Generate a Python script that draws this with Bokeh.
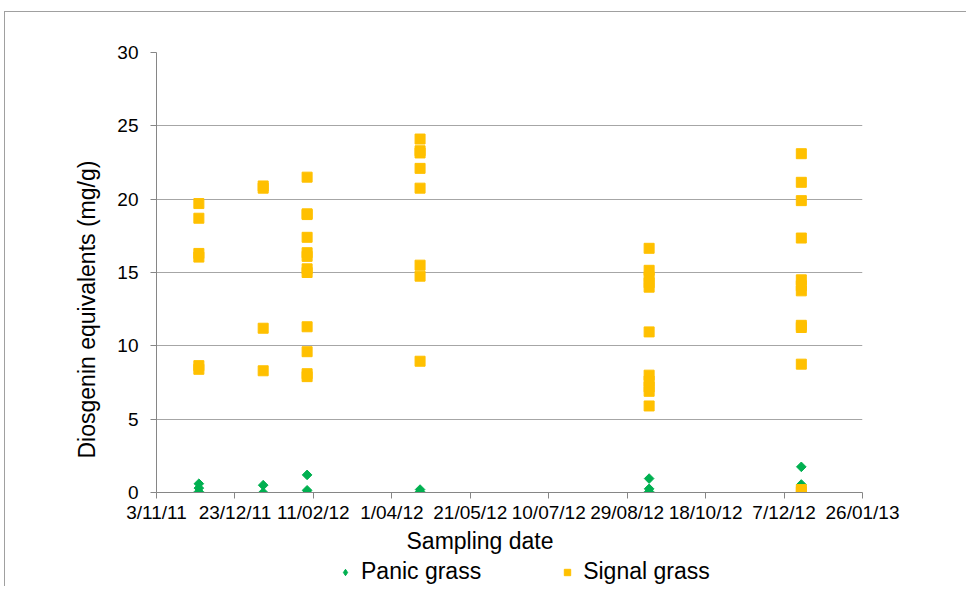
import math
import pandas as pd
from bokeh.plotting import figure
from bokeh.layouts import column
from bokeh.models import (ColumnDataSource, FixedTicker, CustomJSTickFormatter,
                          Legend, LegendItem, Range1d, Title)
from bokeh.embed import file_html
from bokeh.resources import INLINE

# ---- data ----
sampling_dates = ["2011-11-30", "2012-01-10", "2012-02-07",
                  "2012-04-19", "2012-09-12", "2012-12-18"]

panic_values = [
    [0.6, 0.3, 0.05],
    [0.5, 0.0],
    [1.2, 0.15, 0.0],
    [0.2, 0.05],
    [0.95, 0.25, 0.05],
    [1.75, 0.55, 0.1],
]

signal_values = [
    [19.7, 18.7, 16.3, 16.05, 8.65, 8.4],
    [20.9, 20.75, 11.2, 8.3],
    [21.5, 19.0, 18.95, 17.4, 16.35, 16.1, 15.25, 15.0, 11.3, 9.6, 8.1, 7.9],
    [24.1, 23.3, 23.15, 22.1, 20.75, 15.5, 14.75, 8.95],
    [16.65, 15.15, 14.7, 14.3, 14.0, 10.95, 8.0, 7.6, 7.2, 6.9, 5.9],
    [23.1, 21.15, 19.9, 17.35, 14.5, 14.1, 13.75, 11.4, 11.25, 8.75, 0.2, 0.05],
]

x_tick_dates = ["2011-11-03", "2011-12-23", "2012-02-11", "2012-04-01",
                "2012-05-21", "2012-07-10", "2012-08-29", "2012-10-18",
                "2012-12-07", "2013-01-26"]
y_ticks = [0, 5, 10, 15, 20, 25, 30]

series_names = ["Panic grass", "Signal grass"]
series_colors = ["#00B050", "#FFC000"]
x_title = "Sampling date"
y_title = "Diosgenin equivalents (mg/g)"


def flatten(values):
    xs, ys = [], []
    for d, vs in zip(sampling_dates, values):
        for v in vs:
            xs.append(pd.Timestamp(d))
            ys.append(v)
    return ColumnDataSource(data=dict(x=xs, y=ys))


def ms(d):
    return pd.Timestamp(d).value // 10**6


FONT = "Liberation Sans"
panic_src = flatten(panic_values)
signal_src = flatten(signal_values)

p = figure(width=961, height=546, x_axis_type="datetime",
           x_range=Range1d(pd.Timestamp(x_tick_dates[0]), pd.Timestamp(x_tick_dates[-1])),
           y_range=Range1d(y_ticks[0], y_ticks[-1]),
           output_backend="svg", toolbar_location=None,
           min_border_left=151, min_border_right=104,
           min_border_top=40, min_border_bottom=66)

p.outline_line_color = None
p.background_fill_color = "white"
p.border_fill_color = "white"

# grid
p.xgrid.grid_line_color = None
p.ygrid.grid_line_color = "#a6a6a6"
p.ygrid.grid_line_width = 1
p.ygrid.ticker = FixedTicker(ticks=y_ticks)

# axes
xa = p.xaxis[0]
xa.ticker = FixedTicker(ticks=[ms(d) for d in x_tick_dates])
xa.formatter = CustomJSTickFormatter(code="""
const d = new Date(tick);
const dd = d.getUTCDate();
const mm = String(d.getUTCMonth() + 1).padStart(2, '0');
const yy = String(d.getUTCFullYear() % 100).padStart(2, '0');
return dd + '/' + mm + '/' + yy;
""")

ya = p.yaxis[0]
ya.ticker = FixedTicker(ticks=y_ticks)

for ax in (xa, ya):
    ax.axis_line_color = "#868686"
    ax.major_tick_line_color = "#868686"
    ax.minor_tick_line_color = None
    ax.major_tick_in = 0
    ax.major_tick_out = 6
    ax.major_label_text_font = FONT
    ax.major_label_text_font_size = "19px"
    ax.major_label_text_color = "black"

xa.major_label_standoff = 3
ya.major_label_standoff = 12

# axis titles as side-panel titles (Excel places them off-centre)
t_x = Title(text=x_title, align="left", offset=250, standoff=0,
            text_font=FONT, text_font_size="23px", text_font_style="normal",
            text_color="black")
p.add_layout(t_x, "below")
t_y = Title(text=y_title, align="left", offset=34, standoff=29,
            text_font=FONT, text_font_size="23px", text_font_style="normal",
            text_color="black")
p.add_layout(t_y, "left")

p.scatter("x", "y", source=panic_src, marker="square", angle=math.pi / 4, size=6.8,
          fill_color=series_colors[0], line_color=series_colors[0])
p.scatter("x", "y", source=signal_src, marker="square", size=10,
          fill_color=series_colors[1], line_color=series_colors[1])

# legend strip underneath (its glyphs sit outside its range; only the legend shows)
lf = figure(width=961, height=28, x_range=Range1d(0, 1), y_range=Range1d(0, 1),
            output_backend="svg", toolbar_location=None,
            x_axis_location=None, y_axis_location=None,
            min_border_left=0, min_border_right=0, min_border_top=0, min_border_bottom=0)
lf.outline_line_color = None
lf.grid.visible = False
lr_panic = lf.scatter("x", "y", source=panic_src, marker="diamond", size=8,
                      fill_color=series_colors[0], line_color=series_colors[0])
lr_signal = lf.scatter("x", "y", source=signal_src, marker="square", size=10,
                       fill_color=series_colors[1], line_color=series_colors[1])

legend = Legend(items=[LegendItem(label=series_names[0], renderers=[lr_panic]),
                       LegendItem(label=series_names[1], renderers=[lr_signal])],
                orientation="horizontal", location=(181, 1),
                border_line_color=None, background_fill_alpha=0,
                padding=0, margin=0, spacing=78, label_standoff=8,
                glyph_width=16, glyph_height=20,
                label_text_font=FONT, label_text_font_size="23px",
                label_text_color="black")
lf.add_layout(legend)

layout = column(p, lf, spacing=0)
layout.styles = {"margin-left": "4px", "margin-top": "11px",
                 "border-left": "1px solid #a0a0a0", "border-top": "1px solid #a0a0a0"}

open("out.html", "w").write(file_html(layout, INLINE))
